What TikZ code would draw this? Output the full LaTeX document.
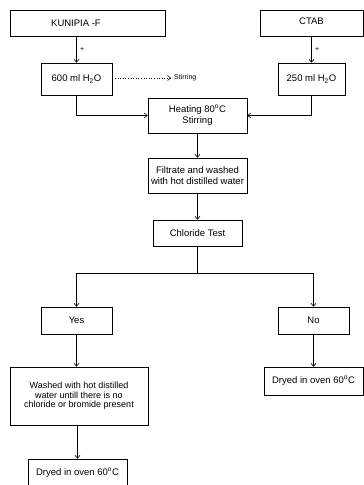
\documentclass[tikz,border=0pt]{standalone}
\usepackage{fontspec}
\setmainfont{Liberation Sans}
\usetikzlibrary{arrows.meta}

\tikzset{
  box/.style={draw, line width=0.6pt, inner sep=1pt, align=center, font=\fontsize{9.5}{11.5}\selectfont},
  arr/.style={line width=0.6pt, -{Straight Barb[length=3pt,width=5pt]}},
  ln/.style={line width=0.6pt},
  small/.style={font=\fontsize{7}{8}\selectfont}
}

\begin{document}
\begin{tikzpicture}[x=1pt,y=-1pt]
\useasboundingbox (0,0) rectangle (364,485);
\node[box, minimum width=155pt, minimum height=26pt] (kunipia) at (87.5,23) {\hspace*{-23pt}KUNIPIA -F};
\node[box, minimum width=103pt, minimum height=26pt] (ctab) at (311.5,23) {\raisebox{3pt}{CTAB}};
\node[box, minimum width=71pt, minimum height=32pt] (water1) at (76.5,79) {600 ml H\textsubscript{2}O};
\node[box, minimum width=67pt, minimum height=32pt] (water2) at (311.5,79) {250 ml H\textsubscript{2}O};
\node[small, anchor=west, inner sep=3pt] (stir) at (171,78) {Stirring};
\node[box, minimum width=99pt, minimum height=35pt] (heat) at (197.5,115.5) {Heating 80\textsuperscript{o}C\\Stirring};
\node[box, minimum width=99pt, minimum height=35pt] (filt) at (197.5,175.5) {Filtrate and washed\\with hot distilled water};
\node[box, minimum width=89pt, minimum height=26pt] (chlor) at (197.5,233) {Chloride Test};
\node[box, minimum width=71pt, minimum height=27pt] (yes) at (76.5,320.5) {Yes};
\node[box, minimum width=71pt, minimum height=27pt] (no) at (313.5,320.5) {No};
\node[box, minimum width=138pt, minimum height=58pt, font=\fontsize{9}{9.5}\selectfont] (wash) at (79,396) {Washed with hot distilled\\water untill there is no\\chloride or bromide present};
\node[box, minimum width=99pt, minimum height=28pt] (dry1) at (77.5,473) {Dryed in oven 60\textsuperscript{o}C};
\node[box, minimum width=99pt, minimum height=28pt] (dry2) at (313.5,381) {Dryed in oven 60\textsuperscript{o}C};
\coordinate (split) at (197.5,273);

\draw[arr] (water1.north |- kunipia.south) -- (water1.north) node[midway, right, small] {+};
\draw[arr] (water2.north |- ctab.south) -- (water2.north) node[midway, right, small] {+};
\draw[arr, dotted] (water1.east |- stir.west) -- (stir.west);
\draw[arr] (water1.south) |- (heat.west);
\draw[arr] (water2.south) |- (heat.east);
\draw[arr] (heat.south) -- (filt.north);
\draw[arr] (filt.south) -- (chlor.north);
\draw[ln] (chlor.south) -- (split);
\draw[arr] (split) -| (yes.north);
\draw[arr] (split) -| (no.north);
\draw[arr] (yes.south) -- (yes.south |- wash.north);
\draw[arr] (no.south) -- (dry2.north);
\draw[arr] (dry1.north |- wash.south) -- (dry1.north);
\end{tikzpicture}
\end{document}
